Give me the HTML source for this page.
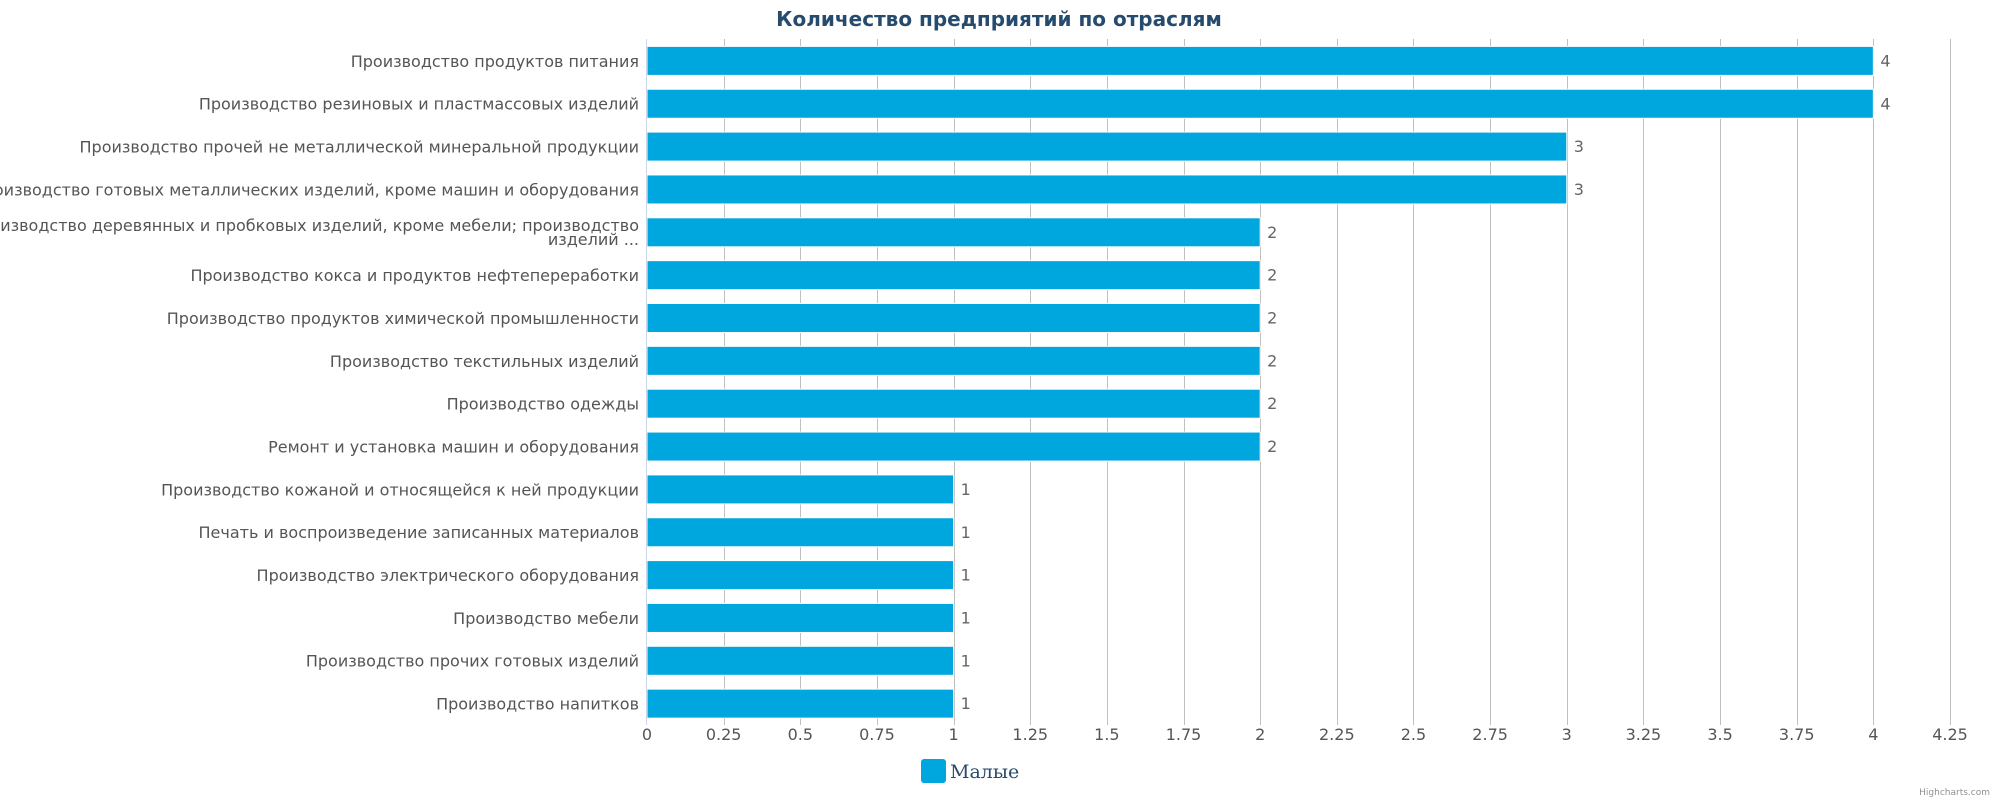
<!DOCTYPE html>
<html><head><meta charset="utf-8"><style>
html,body{margin:0;padding:0;background:#fff;}
svg{display:block;}
</style></head><body>
<svg width="2000" height="800" xmlns="http://www.w3.org/2000/svg" font-family="'DejaVu Sans','Liberation Sans',sans-serif">
<rect width="2000" height="800" fill="#fff"/>
<text x="999" y="26" text-anchor="middle" font-size="20" font-weight="bold" fill="#274b6d">Количество предприятий по отраслям</text>
<g id="grid" stroke="#c0c0c0" stroke-width="1"></g>
<g id="bars"></g>
<g id="labels" font-size="16" fill="#555" text-anchor="end"></g>
<g id="vals" font-size="16" fill="#666"></g>
<g id="ticks" font-size="16" fill="#555" text-anchor="middle"></g>
<line x1="646.5" y1="39" x2="646.5" y2="725" stroke="#ccd6eb"/>
<rect x="921" y="759" width="25" height="24" rx="3" fill="#00a6de"/>
<text x="950" y="778" font-family="'DejaVu Serif','Liberation Serif',serif" font-size="19" fill="#274b6d">Малые</text>
<text x="1990" y="795" text-anchor="end" font-size="9" fill="#909090">Highcharts.com</text>
</svg>
<script>
(function(){
var ns="http://www.w3.org/2000/svg";
var data=[["Производство продуктов питания",4],["Производство резиновых и пластмассовых изделий",4],["Производство прочей не металлической минеральной продукции",3],["Производство готовых металлических изделий, кроме машин и оборудования",3],["Производство деревянных и пробковых изделий, кроме мебели; производство|изделий ...",2],["Производство кокса и продуктов нефтепереработки",2],["Производство продуктов химической промышленности",2],["Производство текстильных изделий",2],["Производство одежды",2],["Ремонт и установка машин и оборудования",2],["Производство кожаной и относящейся к ней продукции",1],["Печать и воспроизведение записанных материалов",1],["Производство электрического оборудования",1],["Производство мебели",1],["Производство прочих готовых изделий",1],["Производство напитков",1]];
var x0=647,u=(1950-647)/4.25,T=39.4,p=42.85;
function el(t,a,parent,txt){var e=document.createElementNS(ns,t);for(var k in a)e.setAttribute(k,a[k]);if(txt!==undefined)e.textContent=txt;document.getElementById(parent).appendChild(e);return e;}
for(var i=1;i<=17;i++){var x=Math.round(x0+i*0.25*u)+0.5;el("line",{x1:x,y1:39,x2:x,y2:725},"grid");}
for(var i=0;i<=17;i++){el("text",{x:x0+i*0.25*u,y:740},"ticks",String(i*0.25));}
data.forEach(function(d,i){var y=T+i*p;var w=d[1]*u;
el("rect",{x:x0,y:y+7,width:w,height:29,fill:"#00a6de",stroke:"#fff","stroke-width":1},"bars");
el("text",{x:x0+w+7,y:y+27},"vals",String(d[1]));
var c=y+p/2;var parts=d[0].split("|");
if(parts.length==1)el("text",{x:639,y:c+6},"labels",parts[0]);
else{el("text",{x:639,y:c-1},"labels",parts[0]);el("text",{x:639,y:c+13},"labels",parts[1]);}
});
})();
</script>
</body></html>
